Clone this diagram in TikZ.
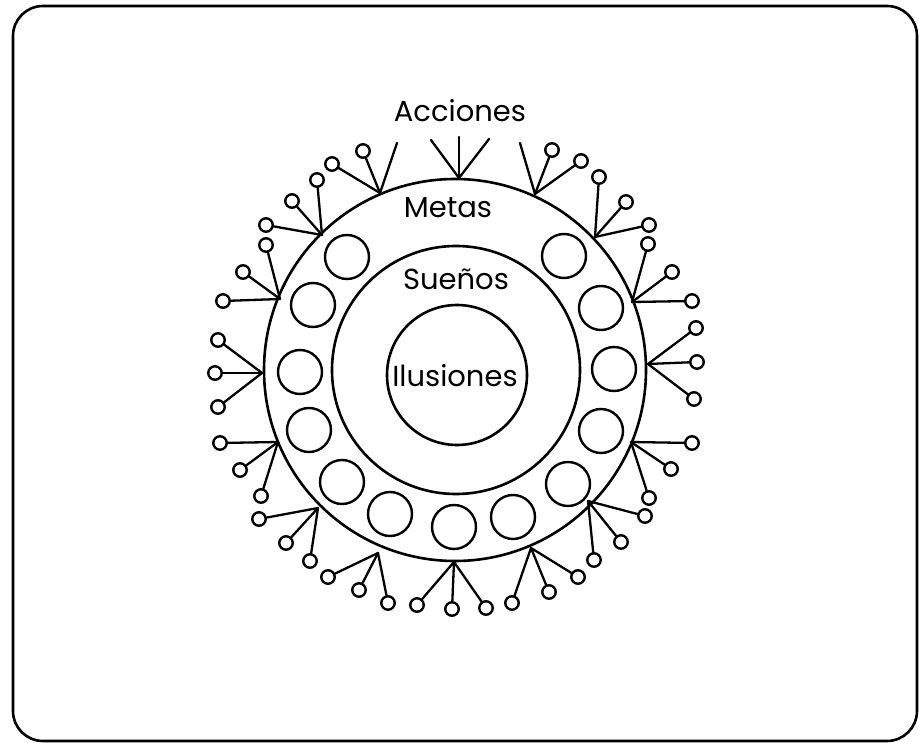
\documentclass[tikz,border=0pt]{standalone}
\usepackage{fontspec}
\setmainfont{Poppins}
\begin{document}
\begin{tikzpicture}[x=1pt,y=-1pt,
  line cap=round, line join=round,
  frame/.style={draw=black, line width=2.6pt, rounded corners=30pt},
  ring/.style={draw=black, line width=2.6pt, circle, inner sep=0pt},
  bead/.style={draw=black, line width=2.4pt, circle, inner sep=0pt, minimum size=44pt},
  knob/.style={draw=black, line width=2.4pt, circle, inner sep=0pt, minimum size=13.5pt},
  spoke/.style={draw=black, line width=2.3pt},
  lbl/.style={font=\fontsize{29}{30}\selectfont, anchor=base, inner sep=0pt}]
\useasboundingbox (0,0) rectangle (919,743);
\draw[frame] (13,6) rectangle (917,741);
% main circles
\node[ring, minimum size=382pt] (outer) at (455,370) {};
\node[ring, minimum size=248pt] (middle) at (456,370) {};
\node[ring, minimum size=140pt] (inner) at (457,375) {};
% beads
\foreach \i/\bx/\by in {1/347/257,2/313/305,3/300/372,4/309/430,5/342/482,
  6/390/514,7/454/527,8/513/517,9/568/484,10/601/431,11/614/369,12/601/308,13/564/256}
  {\node[bead] (b\i) at (\bx,\by) {};}
% labels
\node[lbl] (acc) at (460,122) {Acciones};
\node[lbl] (met) at (448,218) {Metas};
\node[lbl] (sue) at (456,290) {Sueños};
\node[lbl] (ilu) at (455,387) {Ilusiones};
% hubs
\foreach \hn/\hx/\hy in {1/459/178,2/535/194,3/595/237,4/632/302,5/648/364,
  6/631/442,7/588/501,8/531/548,9/454/562,10/378/553,11/318/508,
  12/278/442,13/262/373,14/280/299,15/322/235,16/380/193}
  {\coordinate (hub\hn) at (\hx,\hy);}
% plain spoke ends
\coordinate (endA) at (431,140);
\coordinate (endB) at (459,137);
\coordinate (endC) at (489,139);
\coordinate (endD) at (520,143);
\coordinate (endE) at (397,143);
\draw[spoke] (hub1) -- (endA);
\draw[spoke] (hub1) -- (endB);
\draw[spoke] (hub1) -- (endC);
\draw[spoke] (hub2) -- (endD);
\draw[spoke] (hub16) -- (endE);
% knobbed spokes
\foreach \hn/\kn/\kx/\ky in {2/b/552/150,2/c/581/161,
  3/a/599/177,3/b/626/202,3/c/649/225,
  4/a/648/244,4/b/672/272,4/c/692/301,
  5/a/696/328,5/b/697/362,5/c/694/399,
  6/a/692/443,6/b/671/469,6/c/649/498,
  7/a/645/516,7/b/621/542,7/c/594/560,
  8/a/578/577,8/b/549/592,8/c/512/603,
  9/a/417/605,9/b/452/609,9/c/486/608,
  10/a/328/577,10/b/359/590,10/c/388/603,
  11/a/259/519,11/b/286/543,11/c/310/561,
  12/a/220/443,12/b/240/470,12/c/261/496,
  13/a/218/340,13/b/215/373,13/c/218/407,
  14/a/223/301,14/b/243/272,14/c/266/245,
  15/a/266/225,15/b/292/201,15/c/317/180,
  16/a/332/164,16/b/363/151}
{
  \node[knob] (knob\hn\kn) at (\kx,\ky) {};
  \draw[spoke] (hub\hn) -- (knob\hn\kn);
}
\end{tikzpicture}
\end{document}
